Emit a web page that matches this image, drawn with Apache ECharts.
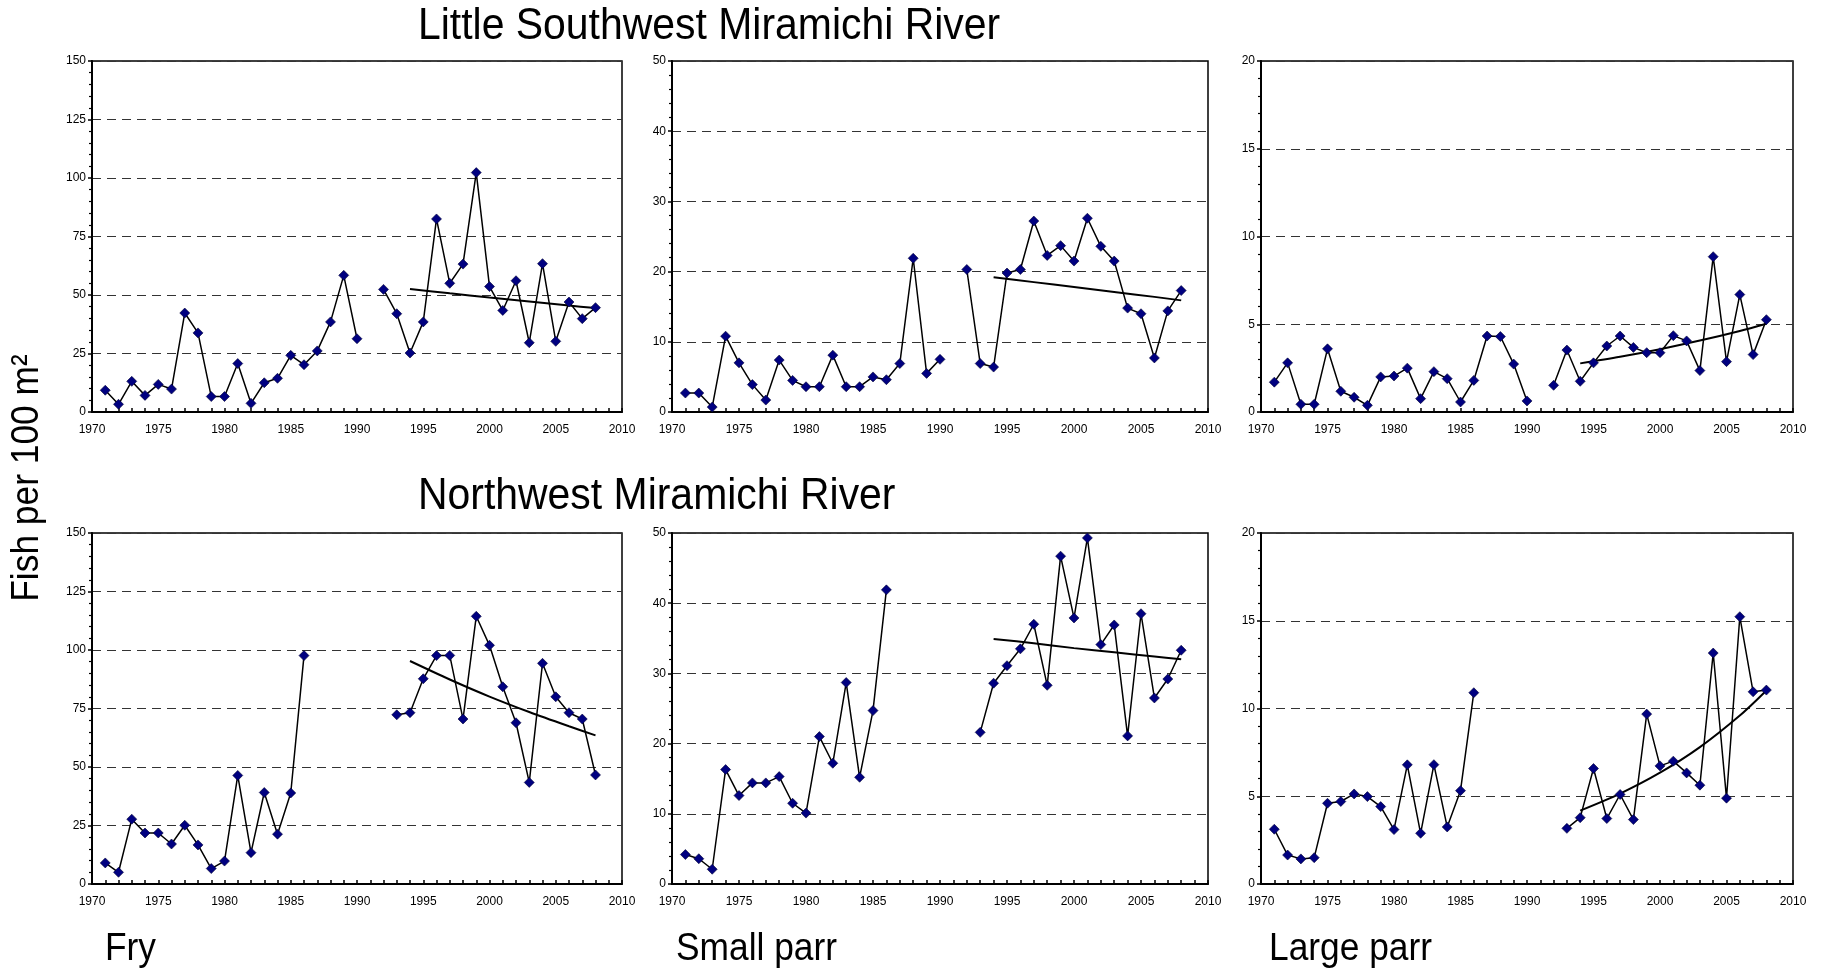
<!DOCTYPE html>
<html>
<head>
<meta charset="utf-8">
<title>Juvenile salmon densities, Miramichi River</title>
<script src="https://cdn.jsdelivr.net/npm/echarts@6/dist/echarts.min.js"></script>
<style>
  html, body { margin: 0; padding: 0; background: #fff; }
  #chart { width: 1834px; height: 971px; }
</style>
</head>
<body>
<div id="chart"></div>
<script>
// Survey years (1991 not sampled on the Little Southwest; 1987-1992 not sampled on the Northwest)
const years = [1971, 1972, 1973, 1974, 1975, 1976, 1977, 1978, 1979, 1980,
               1981, 1982, 1983, 1984, 1985, 1986, 1987, 1988, 1989, 1990,
               1991, 1992, 1993, 1994, 1995, 1996, 1997, 1998, 1999, 2000,
               2001, 2002, 2003, 2004, 2005, 2006, 2007, 2008];

// Little Southwest Miramichi River (fish per 100 m²)
const lswFry = [9.3, 3.3, 13.1, 7.1, 11.8, 9.8, 42.3, 33.8, 6.6, 6.6,
                20.7, 3.7, 12.5, 14.4, 24.2, 20.2, 26.1, 38.5, 58.4, 31.3,
                null, 52.4, 42.0, 25.2, 38.5, 82.5, 55.0, 63.2, 102.3, 53.6,
                43.4, 56.1, 29.6, 63.4, 30.2, 47.0, 39.9, 44.6];
const lswSmallParr = [2.7, 2.7, 0.7, 10.8, 7.0, 3.9, 1.7, 7.4, 4.5, 3.6,
                      3.6, 8.1, 3.6, 3.6, 5.0, 4.6, 6.9, 21.9, 5.5, 7.5,
                      null, 20.3, 6.9, 6.4, 19.8, 20.3, 27.2, 22.3, 23.7, 21.5,
                      27.6, 23.6, 21.5, 14.8, 14.0, 7.7, 14.4, 17.3];
const lswLargeParr = [1.7, 2.8, 0.44, 0.44, 3.6, 1.18, 0.84, 0.38, 2.0, 2.05,
                      2.5, 0.76, 2.3, 1.9, 0.57, 1.8, 4.33, 4.3, 2.73, 0.63,
                      null, 1.52, 3.53, 1.75, 2.8, 3.76, 4.33, 3.68, 3.38, 3.38,
                      4.35, 4.05, 2.36, 8.85, 2.87, 6.69, 3.27, 5.26];

// Northwest Miramichi River (fish per 100 m²)
const nwFry = [9.0, 5.0, 27.7, 21.8, 21.8, 17.1, 25.1, 16.7, 6.6, 9.8,
               46.4, 13.4, 39.1, 21.3, 38.9, 97.6, null, null, null, null,
               null, null, 72.3, 73.2, 87.7, 97.6, 97.7, 70.5, 114.4, 102.0,
               84.3, 68.9, 43.4, 94.3, 80.0, 73.2, 70.5, 46.6];
const nwSmallParr = [4.2, 3.6, 2.1, 16.3, 12.6, 14.4, 14.4, 15.3, 11.5, 10.1,
                     21.0, 17.2, 28.7, 15.2, 24.7, 41.9, null, null, null, null,
                     null, null, 21.6, 28.6, 31.1, 33.5, 37.0, 28.3, 46.7, 37.9,
                     49.3, 34.1, 36.9, 21.1, 38.5, 26.5, 29.2, 33.3];
const nwLargeParr = [3.12, 1.65, 1.43, 1.5, 4.6, 4.7, 5.13, 4.98, 4.41, 3.1,
                     6.79, 2.89, 6.8, 3.25, 5.32, 10.9, null, null, null, null,
                     null, null, 3.17, 3.78, 6.58, 3.73, 5.1, 3.67, 9.68, 6.73,
                     7.0, 6.33, 5.63, 13.16, 4.89, 15.23, 10.95, 11.05];

// Trend lines over 1994-2008
const trendYears = [1994, 1997, 2000, 2003, 2006, 2008];
const lswFryTrend = [52.6, 50.7, 48.9, 47.2, 45.5, 44.4];
const lswSmallTrend = [19.2, 18.5, 17.8, 17.1, 16.4, 15.9];
const lswLargeTrend = [2.77, 3.15, 3.58, 4.07, 4.62, 5.03];
const nwFryTrend = [95.3, 87.4, 80.1, 73.5, 67.4, 63.5];
const nwSmallTrend = [34.9, 34.3, 33.6, 33.0, 32.4, 32.0];
const nwLargeTrend = [4.18, 5.15, 6.34, 7.80, 9.60, 11.03];

// Axis settings per life stage column
const yMax = [150, 50, 20];
const yStep = [25, 10, 5];
const xMin = 1970, xMax = 2010, xStep = 5;

const riverTitles = ['Little Southwest Miramichi River', 'Northwest Miramichi River'];
const stageLabels = ['Fry', 'Small parr', 'Large parr'];
const yAxisTitle = 'Fish per 100 m²';

const panels = [
  { values: lswFry, trend: lswFryTrend, col: 0, row: 0 },
  { values: lswSmallParr, trend: lswSmallTrend, col: 1, row: 0 },
  { values: lswLargeParr, trend: lswLargeTrend, col: 2, row: 0 },
  { values: nwFry, trend: nwFryTrend, col: 0, row: 1 },
  { values: nwSmallParr, trend: nwSmallTrend, col: 1, row: 1 },
  { values: nwLargeParr, trend: nwLargeTrend, col: 2, row: 1 }
];

// Panel layout
const colLeft = [92, 672, 1261];
const colWidth = [530, 536, 532];
const rowTop = [61, 533];
const panelHeight = 351;

const FONT = '"Liberation Sans", Arial, sans-serif';

const grid = [], xAxis = [], yAxis = [], series = [];
panels.forEach((p, i) => {
  grid.push({
    left: colLeft[p.col], top: rowTop[p.row],
    width: colWidth[p.col], height: panelHeight,
    show: true, borderColor: '#000', borderWidth: 1.5, backgroundColor: '#fff'
  });
  xAxis.push({
    type: 'value', gridIndex: i, min: xMin, max: xMax, interval: xStep,
    axisLine: { show: true, onZero: false, lineStyle: { color: '#000', width: 2 } },
    axisTick: { show: true, inside: true, length: 4, lineStyle: { color: '#000', width: 1.5 } },
    minorTick: { show: true, splitNumber: 5, length: 4, lineStyle: { color: '#000', width: 1.5 } },
    axisLabel: { color: '#000', fontSize: 12, fontFamily: FONT, margin: 12,
                 formatter: v => String(v) },
    splitLine: { show: false }
  });
  yAxis.push({
    type: 'value', gridIndex: i, min: 0, max: yMax[p.col], interval: yStep[p.col],
    axisLine: { show: true, onZero: false, lineStyle: { color: '#000', width: 2 } },
    axisTick: { show: true, inside: false, length: 4, lineStyle: { color: '#000', width: 1.5 } },
    minorTick: { show: true, splitNumber: 5, length: 3, lineStyle: { color: '#000', width: 1.2 } },
    axisLabel: { color: '#000', fontSize: 12, fontFamily: FONT, margin: 6 },
    splitLine: { show: true, lineStyle: { color: '#333', width: 1, type: [9, 6] } }
  });
  series.push({
    type: 'line', xAxisIndex: i, yAxisIndex: i,
    data: trendYears.map((yr, k) => [yr, p.trend[k]]),
    smooth: 0.3, showSymbol: false, symbol: 'none', silent: true,
    lineStyle: { color: '#000', width: 2 }, z: 2
  });
  series.push({
    type: 'line', xAxisIndex: i, yAxisIndex: i,
    data: years.map((yr, k) => [yr, p.values[k]]),
    connectNulls: false,
    symbol: 'diamond', symbolSize: 10, showAllSymbol: true,
    itemStyle: { color: '#000080', borderColor: '#000033', borderWidth: 0.6 },
    lineStyle: { color: '#000', width: 1.5 }, z: 3
  });
});

// Condensed-looking headings: a larger font squeezed horizontally
function heading(text, x, y, size, squeeze, rotation) {
  return {
    type: 'text', x: x, y: y, rotation: rotation || 0, scaleX: squeeze, scaleY: 1,
    style: { text: text, font: size + 'px ' + FONT, fill: '#000',
             align: rotation ? 'center' : 'left', verticalAlign: 'middle' }
  };
}

const graphic = [
  heading(riverTitles[0], 418, 27, 44, 0.93),
  heading(riverTitles[1], 418, 497, 44, 0.93),
  heading(yAxisTitle, 28, 478, 38, 0.93, Math.PI / 2),
  heading(stageLabels[0], 105, 950, 38, 0.93),
  heading(stageLabels[1], 676, 950, 38, 0.93),
  heading(stageLabels[2], 1269, 950, 38, 0.93)
];

const chart = echarts.init(document.getElementById('chart'), null, { renderer: 'canvas' });
chart.setOption({
  animation: false,
  backgroundColor: '#fff',
  grid, xAxis, yAxis, series, graphic
});
</script>
</body>
</html>
